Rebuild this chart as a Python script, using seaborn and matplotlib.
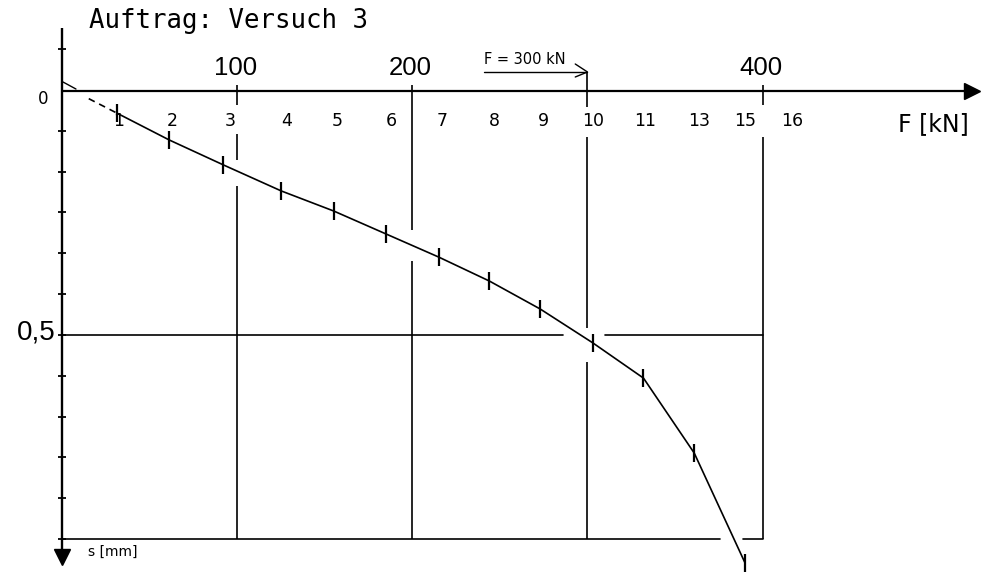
import numpy as np
import pandas as pd
import matplotlib
matplotlib.use("Agg")
import matplotlib.pyplot as plt
import seaborn as sns

# ---- data ----
steps = ["1", "2", "3", "4", "5", "6", "7", "8", "9", "10", "11", "13", "15"]
load_kN = [31, 61, 92, 125, 155, 185, 215, 244, 273, 303, 332, 361, 390]
settlement_mm = [0.047, 0.102, 0.153, 0.206, 0.247, 0.294, 0.341, 0.390,
                 0.447, 0.516, 0.588, 0.741, 0.965]

step_labels = ["1", "2", "3", "4", "5", "6", "7", "8", "9", "10", "11", "13", "15", "16"]
step_label_pos = [32, 63, 96, 128, 157, 188, 217, 247, 275, 303, 333, 364, 390, 417]

grid_loads = [100, 200, 300, 400]
x_tick_values = [100, 200, 400]
x_tick_labels = ["100", "200", "400"]
y_tick_values = [0.0, 0.5]
y_tick_labels = ["0", "0,5"]

title = "Auftrag: Versuch 3"
x_title = "F [kN]"
y_title = "s [mm]"
note = "F = 300 kN"
note_load = 300

df = pd.DataFrame({"F": load_kN, "s": settlement_mm, "step": steps})

sns.set_theme(style="white")
plt.rcParams["font.family"] = ["DejaVu Sans"]

fig = plt.figure(figsize=(9.95, 5.77), dpi=100)
ax = fig.add_axes([0, 0, 1, 1])
ax.set_xlim(-35.714, 532.857)
ax.set_ylim(0.99388, -0.18367)
ax.axis("off")

K = "black"
s_bottom = 11 / 12

# ---- axes with arrows ----
ax.plot([0, 518], [0.002, 0.002], color=K, lw=1.6, solid_capstyle="butt")
ax.plot([519.5], [0.002], marker=">", ms=11, color=K)
ax.plot([0, 0], [-0.1265, 0.945], color=K, lw=1.7, solid_capstyle="butt")
ax.plot([0], [0.953], marker="v", ms=11, color=K)
# y-axis minor ticks every 1/12 mm
yt = np.arange(-1, 12) / 12
yt = yt[np.abs(yt) > 1e-9]
ax.plot(np.zeros_like(yt), yt, ls="none", marker="_", ms=6, mew=1.3, color=K)
# little start mark at origin
ax.plot([0.3, 7.7], [-0.0163, -0.002], color=K, lw=1.0)

# ---- grid lines (plotter style with gaps) ----
def sv(p):
    return (p - 90) / 490

vsegs = {
    100: [(85, 105), (134, 160), (186, 539)],
    200: [(85, 230), (261, 539)],
    300: [(72, 107), (137, 328), (362, 539)],
    400: [(85, 105), (137, 539)],
}
for F in grid_loads:
    for a, b in vsegs[F]:
        ax.plot([F, F], [sv(a), sv(b)], color=K, lw=1.2, solid_capstyle="butt")

ax.plot([0, 286], [0.5, 0.5], color=K, lw=1.2)
ax.plot([310, 400], [0.5, 0.5], color=K, lw=1.2)
ax.plot([0, 375.7], [s_bottom, s_bottom], color=K, lw=1.2)
ax.plot([388.9, 400], [s_bottom, s_bottom], color=K, lw=1.2)

# ---- curve ----
sns.lineplot(data=df, x="F", y="s", sort=False, estimator=None, ax=ax,
             color=K, lw=1.2, marker="|", markersize=13, markeredgewidth=1.6,
             markeredgecolor=K)
# dashed extrapolation toward origin
slope = (settlement_mm[1] - settlement_mm[0]) / (load_kN[1] - load_kN[0])
F0 = 15
ax.plot([F0, load_kN[0]], [settlement_mm[0] - slope * (load_kN[0] - F0), settlement_mm[0]],
        color=K, lw=1.2, ls=(0, (4, 3)))

# ---- texts ----
ax.text(15.1, -0.1265, title, family=["DejaVu Sans Mono"], fontsize=18.5,
        ha="left", va="baseline", color=K)

for v, lab in zip(x_tick_values, x_tick_labels):
    ax.text(v - 1.0, sv(68), lab, family=["Liberation Sans"], fontsize=18.5,
            ha="center", va="center", color=K)
ax.text(-11, sv(99), y_tick_labels[0], fontsize=12, ha="center", va="center", color=K)
ax.text(-4, sv(333), y_tick_labels[1], family=["Liberation Sans"], fontsize=20,
        ha="right", va="center", color=K)

for p, lab in zip(step_label_pos, step_labels):
    ax.text(p, sv(121), lab, fontsize=12.5, ha="center", va="center", color=K)

ax.text(477.4, sv(124), x_title, fontsize=17, ha="left", va="center", color=K)
ax.text(14.6, sv(552), y_title, fontsize=10, ha="left", va="center", color=K)

# F = 300 kN arrow note
ax.text(240.6, sv(60), note, fontsize=10.5, ha="left", va="center", color=K)
ax.plot([240.6, note_load], [sv(72), sv(72)], color=K, lw=1.0)
ax.plot([293, note_load, 293], [sv(64), sv(72), sv(77)], color=K, lw=1.0)

fig.savefig("out.png", dpi=100)
